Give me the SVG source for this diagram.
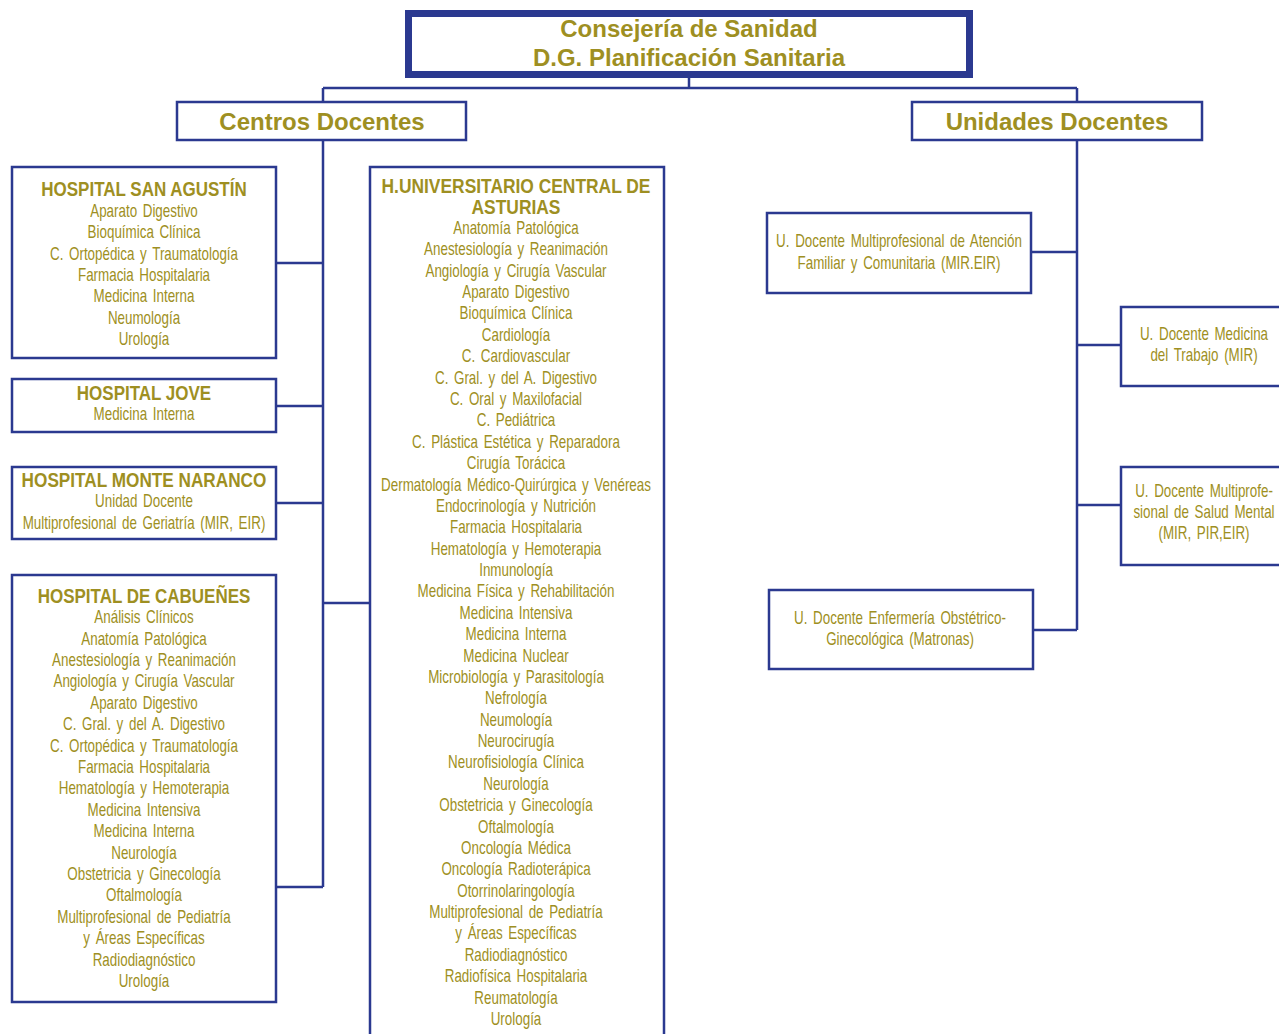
<svg xmlns="http://www.w3.org/2000/svg" width="1279" height="1034" viewBox="0 0 1279 1034">
<style>
.box{fill:#fff;stroke:#2b3990;stroke-width:2.5}
.ln{fill:none;stroke:#2b3990;stroke-width:2.5}
text{font-family:"Liberation Sans",Arial,sans-serif;fill:#9e8f22;text-anchor:middle}
.t{font-size:24px;font-weight:bold}
.h{font-size:20px;font-weight:bold}
.i{font-size:17.5px;word-spacing:2.5px}
</style>
<rect width="1279" height="1034" fill="#fff"/>
<g id="connectors">
<path class="ln" d="M689 78V88M323 88H1077M323 88V102M1077 88V102"/>
<path class="ln" d="M323 140V887M276 263H323M276 406H323M276 503H323M276 887H323M323 603H370"/>
<path class="ln" d="M1077 140V630M1031 252H1077M1077 345H1121M1077 505H1121M1033 630H1077"/>
</g>
<g id="consejeria">
<rect x="408.5" y="13.5" width="561" height="61" fill="#fff" stroke="#2b3990" stroke-width="7"/>
<text class="t" x="689" y="37">Consejería de Sanidad</text>
<text class="t" x="689" y="66">D.G. Planificación Sanitaria</text>
</g>
<g id="centros">
<rect class="box" x="177" y="102" width="289" height="38"/>
<text class="t" x="322" y="130">Centros Docentes</text>
</g>
<g id="unidades">
<rect class="box" x="912" y="102" width="290" height="38"/>
<text class="t" x="1057" y="130">Unidades Docentes</text>
</g>
<g id="san-agustin">
<rect class="box" x="12" y="167" width="264" height="191"/>
<g transform="translate(144 0) scale(0.85 1)"><text class="h" y="196">HOSPITAL SAN AGUSTÍN</text></g>
<g transform="translate(144 0) scale(0.765 1)">
<text class="i" y="217">Aparato Digestivo</text>
<text class="i" y="238">Bioquímica Clínica</text>
<text class="i" y="260">C. Ortopédica y Traumatología</text>
<text class="i" y="281">Farmacia Hospitalaria</text>
<text class="i" y="302">Medicina Interna</text>
<text class="i" y="324">Neumología</text>
<text class="i" y="345">Urología</text>
</g>
</g>
<g id="jove">
<rect class="box" x="12" y="379" width="264" height="53"/>
<g transform="translate(144 0) scale(0.85 1)"><text class="h" y="400">HOSPITAL JOVE</text></g>
<g transform="translate(144 0) scale(0.765 1)"><text class="i" y="420">Medicina Interna</text></g>
</g>
<g id="monte-naranco">
<rect class="box" x="12" y="467" width="264" height="72"/>
<g transform="translate(144 0) scale(0.86 1)"><text class="h" y="487">HOSPITAL MONTE NARANCO</text></g>
<g transform="translate(144 0) scale(0.765 1)">
<text class="i" y="507">Unidad Docente</text>
<text class="i" y="529">Multiprofesional de Geriatría (MIR, EIR)</text>
</g>
</g>
<g id="cabuenes">
<rect class="box" x="12" y="575" width="264" height="427"/>
<g transform="translate(144 0) scale(0.85 1)"><text class="h" y="603">HOSPITAL DE CABUEÑES</text></g>
<g transform="translate(144 0) scale(0.765 1)">
<text class="i" y="623">Análisis Clínicos</text>
<text class="i" y="645">Anatomía Patológica</text>
<text class="i" y="666">Anestesiología y Reanimación</text>
<text class="i" y="687">Angiología y Cirugía Vascular</text>
<text class="i" y="709">Aparato Digestivo</text>
<text class="i" y="730">C. Gral. y del A. Digestivo</text>
<text class="i" y="752">C. Ortopédica y Traumatología</text>
<text class="i" y="773">Farmacia Hospitalaria</text>
<text class="i" y="794">Hematología y Hemoterapia</text>
<text class="i" y="816">Medicina Intensiva</text>
<text class="i" y="837">Medicina Interna</text>
<text class="i" y="859">Neurología</text>
<text class="i" y="880">Obstetricia y Ginecología</text>
<text class="i" y="901">Oftalmología</text>
<text class="i" y="923">Multiprofesional de Pediatría</text>
<text class="i" y="944">y Áreas Específicas</text>
<text class="i" y="966">Radiodiagnóstico</text>
<text class="i" y="987">Urología</text>
</g>
</g>
<g id="huca">
<rect class="box" x="370" y="167" width="294" height="880"/>
<g transform="translate(516 0) scale(0.87 1)">
<text class="h" y="193">H.UNIVERSITARIO CENTRAL DE</text>
<text class="h" y="214">ASTURIAS</text>
</g>
<g transform="translate(516 0) scale(0.765 1)">
<text class="i" y="234">Anatomía Patológica</text>
<text class="i" y="255.4">Anestesiología y Reanimación</text>
<text class="i" y="276.8">Angiología y Cirugía Vascular</text>
<text class="i" y="298.1">Aparato Digestivo</text>
<text class="i" y="319.5">Bioquímica Clínica</text>
<text class="i" y="340.9">Cardiología</text>
<text class="i" y="362.3">C. Cardiovascular</text>
<text class="i" y="383.7">C. Gral. y del A. Digestivo</text>
<text class="i" y="405">C. Oral y Maxilofacial</text>
<text class="i" y="426.4">C. Pediátrica</text>
<text class="i" y="447.8">C. Plástica Estética y Reparadora</text>
<text class="i" y="469.2">Cirugía Torácica</text>
<text class="i" y="490.6">Dermatología Médico-Quirúrgica y Venéreas</text>
<text class="i" y="511.9">Endocrinología y Nutrición</text>
<text class="i" y="533.3">Farmacia Hospitalaria</text>
<text class="i" y="554.7">Hematología y Hemoterapia</text>
<text class="i" y="576.1">Inmunología</text>
<text class="i" y="597.5">Medicina Física y Rehabilitación</text>
<text class="i" y="618.8">Medicina Intensiva</text>
<text class="i" y="640.2">Medicina Interna</text>
<text class="i" y="661.6">Medicina Nuclear</text>
<text class="i" y="683">Microbiología y Parasitología</text>
<text class="i" y="704.4">Nefrología</text>
<text class="i" y="725.7">Neumología</text>
<text class="i" y="747.1">Neurocirugía</text>
<text class="i" y="768.5">Neurofisiología Clínica</text>
<text class="i" y="789.9">Neurología</text>
<text class="i" y="811.3">Obstetricia y Ginecología</text>
<text class="i" y="832.6">Oftalmología</text>
<text class="i" y="854">Oncología Médica</text>
<text class="i" y="875.4">Oncología Radioterápica</text>
<text class="i" y="896.8">Otorrinolaringología</text>
<text class="i" y="918.2">Multiprofesional de Pediatría</text>
<text class="i" y="939.5">y Áreas Específicas</text>
<text class="i" y="960.9">Radiodiagnóstico</text>
<text class="i" y="982.3">Radiofísica Hospitalaria</text>
<text class="i" y="1003.7">Reumatología</text>
<text class="i" y="1025">Urología</text>
</g>
</g>
<g id="ud-afyc">
<rect class="box" x="767" y="213" width="264" height="80"/>
<g transform="translate(899 0) scale(0.765 1)">
<text class="i" y="247">U. Docente Multiprofesional de Atención</text>
<text class="i" y="269">Familiar y Comunitaria (MIR.EIR)</text>
</g>
</g>
<g id="ud-trabajo">
<rect class="box" x="1121" y="307" width="170" height="79"/>
<g transform="translate(1204 0) scale(0.765 1)">
<text class="i" y="340">U. Docente Medicina</text>
<text class="i" y="361">del Trabajo (MIR)</text>
</g>
</g>
<g id="ud-salud-mental">
<rect class="box" x="1121" y="467" width="170" height="98"/>
<g transform="translate(1204 0) scale(0.765 1)">
<text class="i" y="497">U. Docente Multiprofe-</text>
<text class="i" y="518">sional de Salud Mental</text>
<text class="i" y="539">(MIR, PIR,EIR)</text>
</g>
</g>
<g id="ud-matronas">
<rect class="box" x="769" y="590" width="264" height="79"/>
<g transform="translate(900 0) scale(0.765 1)">
<text class="i" y="624">U. Docente Enfermería Obstétrico-</text>
<text class="i" y="645">Ginecológica (Matronas)</text>
</g>
</g>
</svg>
